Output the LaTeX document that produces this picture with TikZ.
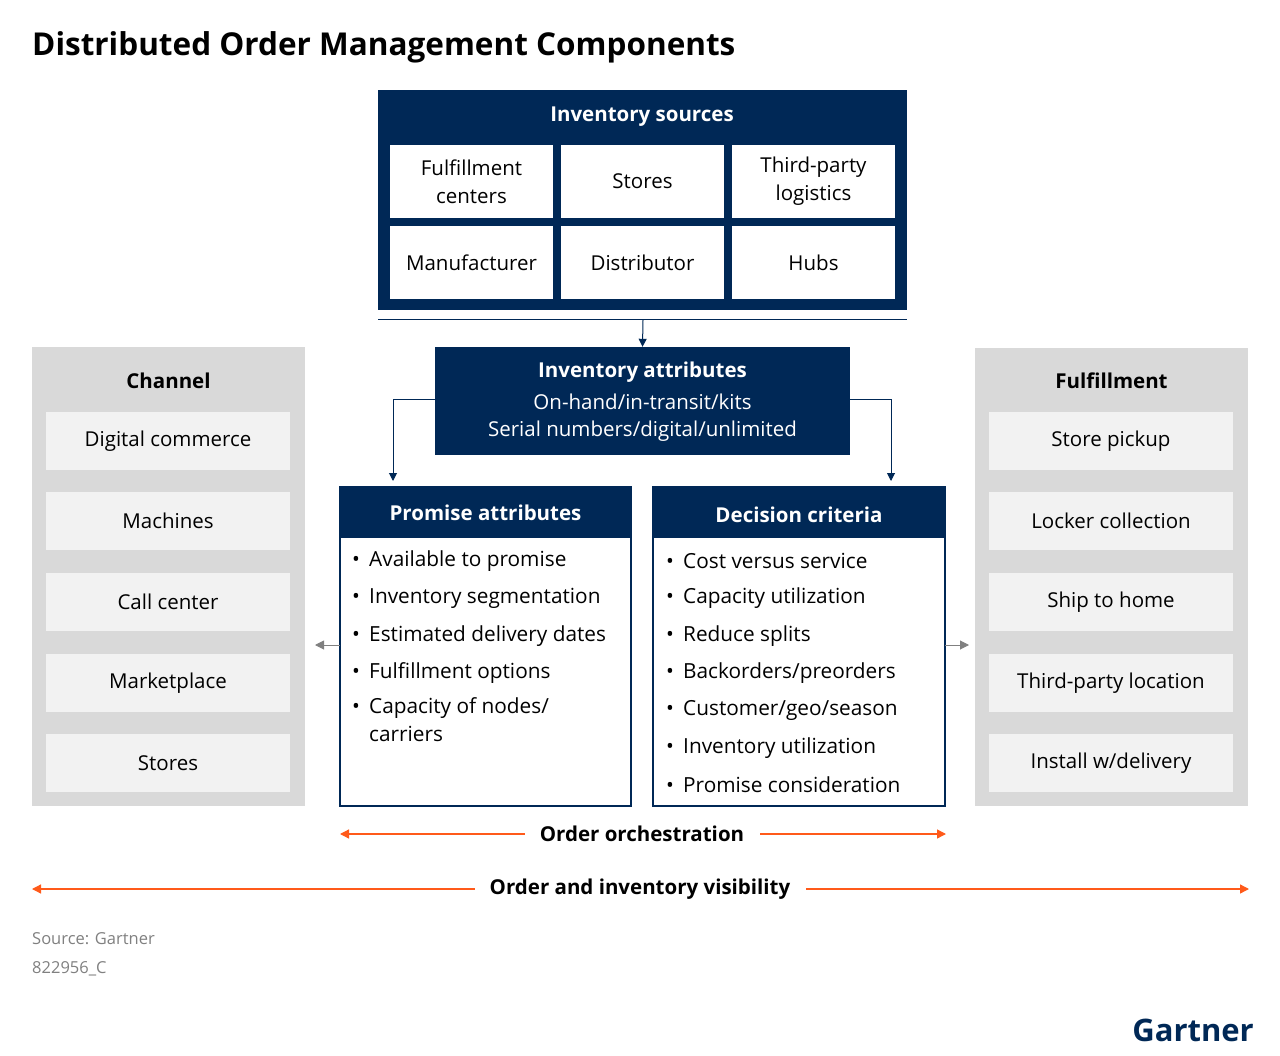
\documentclass[tikz,border=0pt]{standalone}
\usepackage{fontspec}
\setmainfont{Open Sans}
\usetikzlibrary{arrows.meta}
\definecolor{navy}{HTML}{002856}
\definecolor{panel}{HTML}{D9D9D9}
\definecolor{item}{HTML}{F2F2F2}
\definecolor{org}{HTML}{FF5A1A}
\newcommand{\bt}{\makebox[17pt][l]{\textbullet}}
\begin{document}
\begin{tikzpicture}[x=1pt,y=-1pt,
  cell/.style={fill=white,minimum width=163pt,minimum height=73pt,align=center,font=\fontsize{20.5}{28}\selectfont,inner sep=0},
  itm/.style={fill=item,minimum width=244pt,minimum height=58pt,font=\fontsize{20.5}{24}\selectfont,inner sep=0},
  hd/.style={font=\fontsize{20.5}{24}\selectfont\bfseries},
  bl/.style={anchor=west,align=left,font=\fontsize{20.8}{28}\selectfont,inner sep=0},
  conn/.style={navy,line width=1pt,-{Triangle[length=8pt,width=8pt]}},
  garr/.style={gray,line width=1pt,-{Triangle[length=9pt,width=9pt]}},
  otip/.style={org,line width=1.3pt}]
\useasboundingbox (0,0) rectangle (1280,1056);
\node[anchor=west,font=\fontsize{31.5}{36}\selectfont\bfseries,inner sep=0] (title) at (32,47) {Distributed Order Management Components};
% inventory sources
\fill[navy] (378,90) rectangle (907,310);
\node[hd,text=white] (ish) at (642,117) {Inventory sources};
\node[cell] (c1) at (471.5,181.5) {Fulfillment\\centers};
\node[cell] (c2) at (642.5,181.5) {Stores};
\node[cell] (c3) at (813.5,181.5) {Third-party\\logistics};
\node[cell] (c4) at (471.5,262.5) {Manufacturer};
\node[cell] (c5) at (642.5,262.5) {Distributor};
\node[cell] (c6) at (813.5,262.5) {Hubs};
\draw[navy,line width=1pt] (378,320) -- (907,320);
\coordinate (ls) at (643,320);
% inventory attributes
\node[fill=navy,text=white,minimum width=415pt,minimum height=108pt,inner sep=0] (ia) at (642.5,401) {};
\node[hd,text=white] at (642.5,372) {Inventory attributes};
\node[text=white,font=\fontsize{20.5}{27}\selectfont,align=center] at (642.5,418) {On-hand/in-transit/kits\\Serial numbers/digital/unlimited};
\draw[conn] (ls) -- (ia.north);
\draw[conn] (ia.west |- 0,400) -| (393,481);
\draw[conn] (ia.east |- 0,400) -| (891,481);
% promise
\draw[navy,line width=1.2pt,fill=white] (340,487) rectangle (631,806);
\fill[navy] (340,487) rectangle (631,538);
\node[hd,text=white] (pa) at (485.5,513) {Promise attributes};
\node[bl] (p1) at (352,561) {\bt Available to promise};
\node[bl] (p2) at (352,598) {\bt Inventory segmentation};
\node[bl] (p3) at (352,636) {\bt Estimated delivery dates};
\node[bl] (p4) at (352,673) {\bt Fulfillment options};
\node[bl,anchor=north west] (p5) at (352,697) {\bt Capacity of nodes/\\\hspace{17pt}carriers};
% decision
\draw[navy,line width=1.2pt,fill=white] (653,487) rectangle (945,806);
\fill[navy] (653,487) rectangle (945,538);
\node[hd,text=white] (dc) at (799,515) {Decision criteria};
\node[bl] (d1) at (666,561) {\bt Cost versus service};
\node[bl] (d2) at (666,598) {\bt Capacity utilization};
\node[bl] (d3) at (666,636) {\bt Reduce splits};
\node[bl] (d4) at (666,673) {\bt Backorders/preorders};
\node[bl] (d5) at (666,710) {\bt Customer/geo/season};
\node[bl] (d6) at (666,748) {\bt Inventory utilization};
\node[bl] (d7) at (666,785) {\bt Promise consideration};
% channel
\fill[panel] (32,347) rectangle (305,806);
\node[hd] (ch) at (168.5,381) {Channel};
\node[itm] (a1) at (168,441) {Digital commerce};
\node[itm] (a2) at (168,521) {Machines};
\node[itm] (a3) at (168,602) {Call center};
\node[itm] (a4) at (168,683) {Marketplace};
\node[itm] (a5) at (168,763) {Stores};
% fulfillment
\fill[panel] (975,348) rectangle (1248,806);
\node[hd] (fu) at (1111.5,381) {Fulfillment};
\node[itm] (b1) at (1111,441) {Store pickup};
\node[itm] (b2) at (1111,521) {Locker collection};
\node[itm] (b3) at (1111,602) {Ship to home};
\node[itm] (b4) at (1111,683) {Third-party location};
\node[itm] (b5) at (1111,763) {Install w/delivery};
\coordinate (gl1) at (340,645); \coordinate (gl2) at (315,645);
\coordinate (gr1) at (945,645); \coordinate (gr2) at (969,645);
\draw[garr] (gl1) -- (gl2);
\draw[garr] (gr1) -- (gr2);
% orchestration
\node[hd] (oo) at (642,834) {Order orchestration};
\coordinate (o1) at (340,834); \coordinate (o2) at (946,834);
\draw[otip,{Triangle[length=9pt,width=9pt]}-] (o1) -- (525,834);
\draw[otip,-{Triangle[length=9pt,width=9pt]}] (760,834) -- (o2);
\node[hd] (ov) at (640,889) {Order and inventory visibility};
\coordinate (v1) at (32,889); \coordinate (v2) at (1249,889);
\draw[otip,{Triangle[length=9pt,width=9pt]}-] (v1) -- (475,889);
\draw[otip,-{Triangle[length=9pt,width=9pt]}] (806,889) -- (v2);
\node[anchor=west,text=gray,font=\fontsize{16.5}{20}\selectfont,inner sep=0] (src) at (32,939) {Source: Gartner};
\node[anchor=west,text=gray,font=\fontsize{16.5}{20}\selectfont,inner sep=0] (id) at (32,969) {822956\_C};
\node[anchor=east,text=navy,font=\fontsize{31}{36}\selectfont\bfseries,inner sep=0] (logo) at (1254,1030) {Gartner};
\end{tikzpicture}
\end{document}
